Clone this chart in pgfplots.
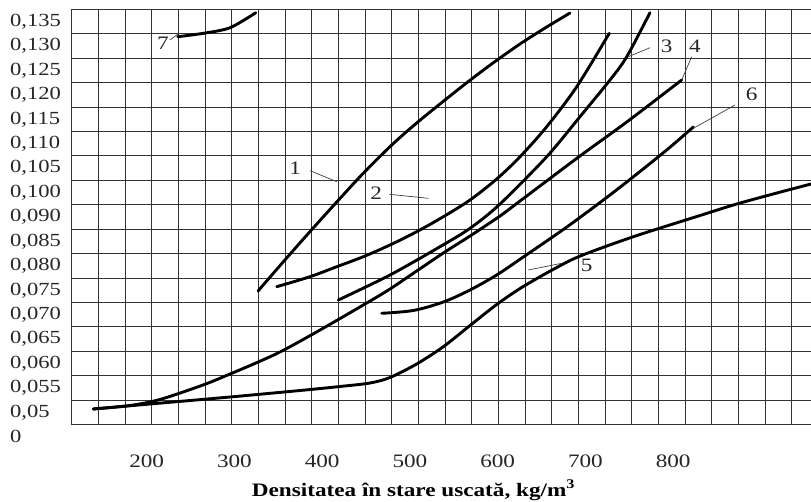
\documentclass[border=0pt]{standalone}
\usepackage{pgfplots}
\pgfplotsset{compat=1.18}
\usepackage{fontspec}
\setmainfont{Liberation Serif}[FakeStretch=1.22]
\begin{document}
\begin{tikzpicture}[
  curve/.style={black, line width=2.9bp, line cap=round, no markers, smooth, tension=0.5},
  leader/.style={black!75, line width=0.7bp, no markers, sharp plot},
]
\begin{axis}[
  scale only axis,
  width=739.3bp, height=415.3bp,
  at={(0,0)}, anchor=south west,
  xmin=114.55, xmax=957.1,
  ymin=0, ymax=17,
  axis line style={draw=none},
  major tick length=0pt, minor tick length=0pt,
  xtick={200,300,400,500,600,700,800},
  xticklabels={200,300,400,500,600,700,800},
  minor xtick={114.6,144.99,...,940},
  xminorgrids=true, xmajorgrids=false,
  ytick={0,1,...,17},
  yticklabels={{0},{0,05},{0,055},{0,060},{0,065},{0,070},{0,075},{0,080},{0,085},{0,090},{0,100},{0,105},{0,110},{0,115},{0,120},{0,125},{0,130},{0,135}},
  ymajorgrids=true,
  grid style={black!80, line width=1bp},
  minor grid style={black!80, line width=1bp},
  yticklabel style={anchor=west, inner sep=0pt, xshift=-61.7bp, yshift=-12.2bp, font=\fontsize{18.5bp}{18.5bp}\selectfont, text=black!85},
  xticklabel style={anchor=center, inner sep=0pt, yshift=-37bp, font=\fontsize{19bp}{19bp}\selectfont, text=black!85},
  xlabel={\textbf{Densitatea în stare uscată, kg/m\textsuperscript{3}}},
  xlabel style={at={(axis description cs:0.4623,0)}, anchor=center, inner sep=0pt, yshift=-65.3bp, font=\fontsize{19bp}{19bp}\selectfont},
  clip=true,
]
% curve 1
\addplot[curve] coordinates {(326.9,5.473)(356.5,6.701)(386.2,7.908)(416.6,9.116)(446.6,10.282)(479.3,11.449)(507.7,12.350)(538.1,13.238)(566.6,14.048)(596.2,14.846)(626.3,15.604)(654.0,16.238)(682.4,16.852)};
% curve 2
\addplot[curve] coordinates {(348.2,5.649)(386.2,6.058)(416.6,6.467)(446.9,6.877)(477.3,7.356)(507.7,7.900)(538.1,8.514)(568.5,9.198)(598.9,10.057)(625.5,10.970)(655.9,12.198)(690.1,13.835)(727.2,16.021)};
% curve 3
\addplot[curve] coordinates {(418.4,5.104)(477.3,6.128)(534.3,7.286)(568.5,8.039)(602.7,9.034)(655.9,10.970)(693.8,12.607)(728.0,14.110)(747.1,15.063)(773.6,16.864)};
% curve 4
\addplot[curve] coordinates {(139.2,0.643)(181.0,0.786)(215.2,1.032)(264.2,1.625)(295.0,2.075)(325.8,2.546)(354.2,3.017)(397.6,3.876)(450.8,4.982)(477.3,5.555)(507.7,6.291)(538.1,7.028)(568.5,7.724)(602.7,8.543)(625.5,9.157)(693.8,10.999)(747.1,12.390)(809.7,14.110)};
% curve 5
\addplot[curve] coordinates {(139.2,0.643)(203.8,0.847)(295.0,1.134)(374.8,1.400)(420.3,1.564)(454.5,1.707)(477.3,1.932)(507.7,2.485)(538.1,3.193)(568.5,4.061)(598.9,4.920)(625.5,5.575)(655.9,6.210)(686.2,6.783)(716.6,7.212)(762.2,7.785)(830.6,8.563)(872.4,9.034)(916.1,9.464)(957.1,9.853)};
% curve 6
\addplot[curve] coordinates {(467.9,4.560)(503.9,4.675)(538.1,5.022)(568.5,5.514)(598.9,6.128)(629.2,6.864)(674.8,7.990)(712.9,8.993)(747.1,9.934)(792.6,11.244)(823.0,12.186)};
% curve 7
\addplot[curve] coordinates {(235.4,15.882)(264.6,16.021)(295.0,16.250)(324.3,16.864)};
% leader lines
\addplot[leader] coordinates {(226.6,15.75)(235.7,15.99)};
\addplot[leader] coordinates {(386.2,10.397)(416.6,9.947)};
\addplot[leader] coordinates {(476.5,9.431)(521.0,9.267)};
\addplot[leader] coordinates {(773.6,15.432)(748.9,15.063)};
\addplot[leader] coordinates {(821.1,15.063)(809.7,14.110)};
\addplot[leader] coordinates {(870.5,13.086)(823.0,12.133)};
\addplot[leader] coordinates {(634.9,6.332)(673.0,6.607)};
% labels
\begin{scope}[every node/.style={font=\fontsize{19bp}{19bp}\selectfont, inner sep=0pt, text=black!85}]
\node at (axis cs:218.6,15.624) {7};
\node at (axis cs:369.1,10.508) {1};
\node at (axis cs:461.4,9.496) {2};
\node at (axis cs:792.6,15.501) {3};
\node at (axis cs:824.9,15.501) {4};
\node at (axis cs:889.5,13.524) {6};
\node at (axis cs:701.5,6.537) {5};
\end{scope}
\end{axis}
\pgfresetboundingbox
\useasboundingbox (-71.7bp,-77.3bp) rectangle (739.3bp,424.7bp);
\end{tikzpicture}
\end{document}
